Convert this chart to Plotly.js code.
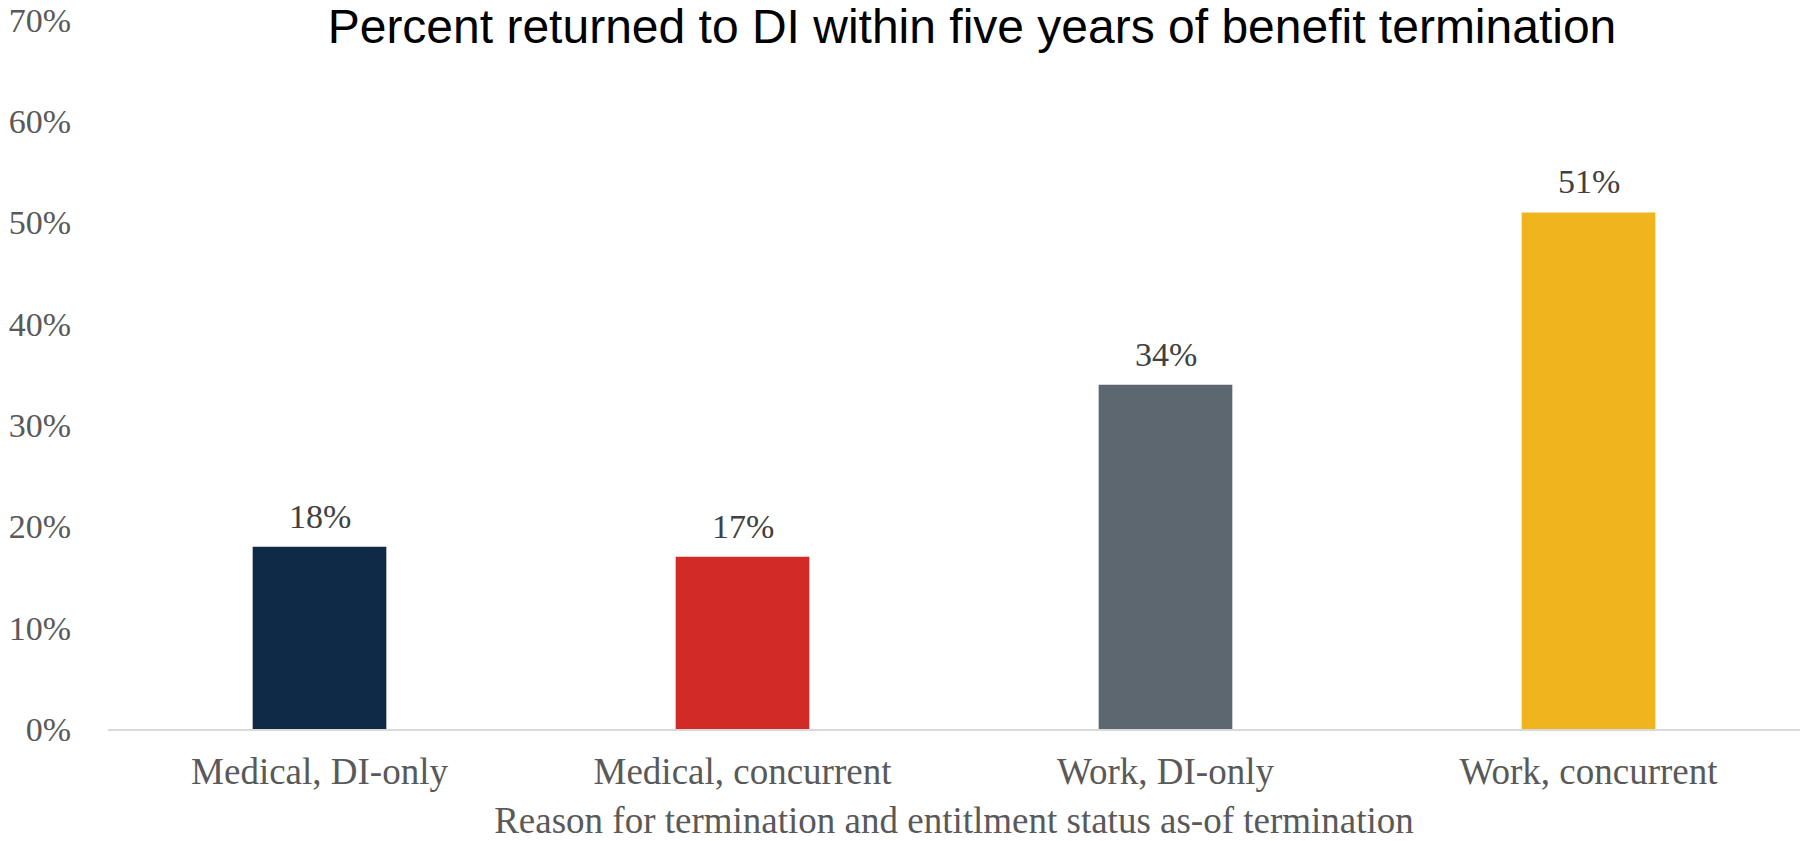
<!DOCTYPE html>
<html>
<head>
<meta charset="utf-8">
<script src="https://cdn.plot.ly/plotly-3.0.1.min.js"></script>
<style>html,body{margin:0;padding:0;background:#fff;}#chart{width:1800px;height:841px;}</style>
</head>
<body>
<div id="chart"></div>
<script>
const categories = ["Medical, DI-only", "Medical, concurrent", "Work, DI-only", "Work, concurrent"];
const values = [18, 17, 34, 51];
const barColors = ["#0E2A47", "#D22B27", "#5C6770", "#F0B41C"];
const yTickVals = [0, 10, 20, 30, 40, 50, 60, 70];
const yTickText = ["0%", "10%", "20%", "30%", "40%", "50%", "60%", "70%"];

const serif = "'Liberation Serif', 'Times New Roman', serif";

const trace = {
  type: "bar",
  x: categories,
  y: values,
  marker: {color: barColors},
  hoverinfo: "none"
};

const annotations = categories.map((c, i) => ({
  x: c, y: values[i], xref: "x", yref: "y",
  text: values[i] + "%",
  showarrow: false, yanchor: "bottom", yshift: 10,
  font: {family: serif, size: 34, color: "#404040"}
}));

const layout = {
  width: 1800, height: 841,
  margin: {l: 108, r: 0, t: 20, b: 112},
  paper_bgcolor: "#fff", plot_bgcolor: "#fff",
  bargap: 0.684,
  showlegend: false,
  title: {
    text: "Percent returned to DI within five years of benefit termination",
    font: {family: "'Liberation Sans', Arial, sans-serif", size: 48, color: "#000"},
    xref: "container", x: 0.54, xanchor: "center",
    yref: "container", y: 1 - 26/841, yanchor: "middle"
  },
  xaxis: {
    type: "category",
    showline: true, linecolor: "#D9D9D9", linewidth: 2,
    showgrid: false, zeroline: false, ticks: "",
    tickfont: {family: serif, size: 37, color: "#595959"},
    ticklabelstandoff: 9,
    title: {
      text: "Reason for termination and entitlment status as-of termination",
      font: {family: serif, size: 37, color: "#595959"},
      standoff: 18
    }
  },
  yaxis: {
    range: [0, 70],
    tickvals: yTickVals, ticktext: yTickText,
    showgrid: false, zeroline: false, showline: false, ticks: "",
    tickfont: {family: serif, size: 34, color: "#595959"},
    ticklabelstandoff: 36
  },
  annotations: annotations
};

Plotly.newPlot("chart", [trace], layout, {displayModeBar: false, staticPlot: true});
</script>
</body>
</html>
